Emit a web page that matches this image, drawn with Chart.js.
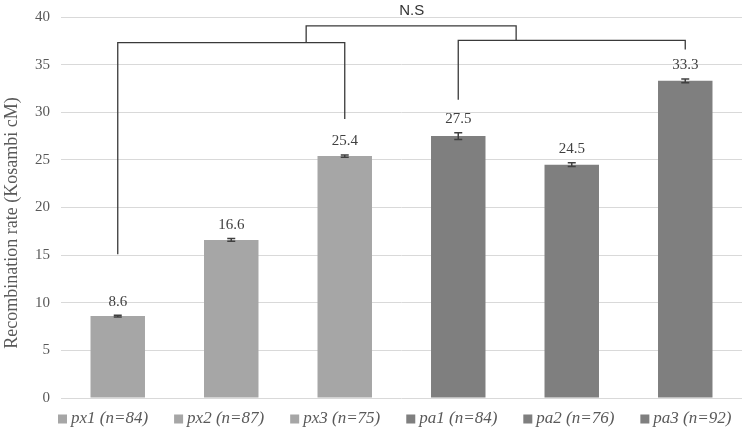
<!DOCTYPE html>
<html><head><meta charset="utf-8">
<script src="https://cdn.jsdelivr.net/npm/chart.js@4"></script>
<style>html,body{margin:0;padding:0;background:#fff;overflow:hidden}#w{width:746px;height:441px;margin-top:-3px}</style>
</head><body><div id="w"><canvas id="c"></canvas></div>
<script>
const categories = ['px1 (n=84)', 'px2 (n=87)', 'px3 (n=75)', 'pa1 (n=84)', 'pa2 (n=76)', 'pa3 (n=92)'];
const values = [8.6, 16.6, 25.4, 27.5, 24.5, 33.3];
const errors = [0.1, 0.15, 0.12, 0.35, 0.2, 0.2];
const yTicks = [0, 5, 10, 15, 20, 25, 30, 35, 40];
const yTitle = 'Recombination rate (Kosambi cM)';
const colors = ['#a6a6a6', '#a6a6a6', '#a6a6a6', '#7f7f7f', '#7f7f7f', '#7f7f7f'];
const brackets = [
  [[0, 15.1], [0, 37.3], [2, 37.3], [2, 29.3]],
  [[3, 31.3], [3, 37.55], [5, 37.55], [5, 36.6]],
  [[1.66, 37.3], [1.66, 39.06], [3.51, 39.06], [3.51, 37.55]]
];
const sigLabel = {text: 'N.S', x: 2.59, y: 40.6};

const serif = '"Liberation Serif", "Times New Roman", serif';

const overlay = {
  id: 'overlay',
  afterDatasetsDraw(chart) {
    const ctx = chart.ctx;
    const xs = chart.scales.x, ys = chart.scales.y;
    const meta = chart.getDatasetMeta(0);
    ctx.save();
    // error bars and value labels
    meta.data.forEach((bar, i) => {
      const x = bar.x;
      const t = ys.getPixelForValue(values[i] + errors[i]);
      const b = ys.getPixelForValue(values[i] - errors[i]);
      ctx.strokeStyle = '#404040';
      ctx.lineWidth = 1.5;
      ctx.beginPath();
      ctx.moveTo(x, t); ctx.lineTo(x, b);
      ctx.moveTo(x - 4, t); ctx.lineTo(x + 4, t);
      ctx.moveTo(x - 4, b); ctx.lineTo(x + 4, b);
      ctx.stroke();
      ctx.fillStyle = '#404040';
      ctx.font = '15px ' + serif;
      ctx.textAlign = 'center';
      ctx.textBaseline = 'bottom';
      ctx.fillText(values[i].toFixed(1), x, t - 6);
    });
    // brackets
    ctx.strokeStyle = '#3a3a3a';
    ctx.lineWidth = 1.3;
    brackets.forEach(poly => {
      ctx.beginPath();
      poly.forEach((p, j) => {
        const px = xs.getPixelForValue(p[0]);
        const py = ys.getPixelForValue(p[1]);
        if (j === 0) ctx.moveTo(px, py); else ctx.lineTo(px, py);
      });
      ctx.stroke();
    });
    ctx.fillStyle = '#333333';
    ctx.font = '15px "Liberation Sans", Arial, sans-serif';
    ctx.textAlign = 'center';
    ctx.textBaseline = 'middle';
    ctx.fillText(sigLabel.text, xs.getPixelForValue(sigLabel.x), ys.getPixelForValue(sigLabel.y));
    // y axis title
    ctx.save();
    ctx.translate(12, 226);
    ctx.rotate(-Math.PI / 2);
    ctx.fillStyle = '#595959';
    ctx.font = '18px ' + serif;
    ctx.fillText(yTitle, 0, 0);
    ctx.restore();
    // legend
    ctx.font = 'italic 17px ' + serif;
    const box = 9, gap = 4, itemGap = 26;
    const widths = categories.map(c => box + gap + ctx.measureText(c).width);
    let lx = chart.chartArea.left - 3;
    const ly = 422;
    ctx.textAlign = 'left';
    ctx.textBaseline = 'middle';
    categories.forEach((c, i) => {
      ctx.fillStyle = colors[i];
      ctx.fillRect(lx, ly - box / 2, box, box);
      ctx.fillStyle = '#595959';
      ctx.fillText(c, lx + box + gap, ly);
      lx += widths[i] + itemGap;
    });
    ctx.restore();
  }
};

new Chart(document.getElementById('c'), {
  type: 'bar',
  data: {
    labels: categories,
    datasets: [{data: values, backgroundColor: colors, barPercentage: 0.48, categoryPercentage: 1.0}]
  },
  plugins: [overlay],
  options: {
    responsive: true,
    maintainAspectRatio: false,
    animation: false,
    layout: {padding: {top: 0, right: 4, left: 24, bottom: 32}},
    plugins: {
      tooltip: {enabled: false},
      legend: {display: false}
    },
    scales: {
      x: {
        grid: {display: false},
        border: {display: false},
        ticks: {display: false}
      },
      y: {
        min: 0, max: 40,
        afterBuildTicks: (s) => { s.ticks = yTicks.map(v => ({value: v})); },
        grid: {color: '#d9d9d9', lineWidth: 1, drawTicks: false},
        border: {display: false},
        ticks: {color: '#595959', font: {family: serif, size: 15}, padding: 11}
      }
    }
  }
});
</script></body></html>
